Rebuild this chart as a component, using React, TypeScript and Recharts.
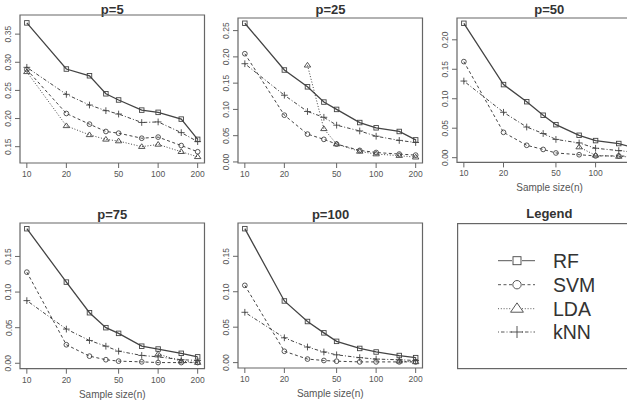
import React from "react";
import { LineChart, Line, XAxis, YAxis, ReferenceArea } from "recharts";

// misclassification rate vs. training sample size, one panel per dimension p
const sampleSizes = [10, 20, 30, 40, 50, 75, 100, 150, 200];
const xTicks = [10, 20, 50, 100, 200];

const rfP5 = [0.370, 0.288, 0.276, 0.244, 0.233, 0.215, 0.211, 0.199, 0.163];
const svmP5 = [0.287, 0.209, 0.190, 0.177, 0.174, 0.165, 0.167, 0.152, 0.141];
const ldaP5 = [0.283, 0.187, 0.171, 0.163, 0.160, 0.150, 0.154, 0.141, 0.132];
const knnP5 = [0.291, 0.243, 0.224, 0.214, 0.208, 0.193, 0.194, 0.175, 0.159];

const rfP25 = [0.264, 0.175, 0.143, 0.114, 0.100, 0.075, 0.065, 0.058, 0.042];
const svmP25 = [0.206, 0.089, 0.053, 0.043, 0.034, 0.022, 0.018, 0.015, 0.013];
const ldaP25 = [null, null, 0.184, 0.063, 0.034, 0.020, 0.015, 0.012, 0.009];
const knnP25 = [0.187, 0.127, 0.096, 0.085, 0.070, 0.059, 0.049, 0.041, 0.037];

const rfP50 = [0.228, 0.124, 0.095, 0.072, 0.056, 0.038, 0.029, 0.024, 0.016];
const svmP50 = [0.163, 0.043, 0.021, 0.014, 0.008, 0.005, 0.003, 0.003, 0.002];
const ldaP50 = [null, null, null, null, null, 0.018, 0.004, 0.002, 0.001];
const knnP50 = [0.130, 0.077, 0.052, 0.041, 0.031, 0.025, 0.016, 0.012, 0.009];

const rfP75 = [0.189, 0.114, 0.071, 0.050, 0.042, 0.024, 0.020, 0.014, 0.009];
const svmP75 = [0.128, 0.026, 0.010, 0.005, 0.003, 0.002, 0.001, 0.001, 0.001];
const ldaP75 = [null, null, null, null, null, null, 0.013, 0.003, 0.001];
const knnP75 = [0.088, 0.048, 0.032, 0.024, 0.017, 0.011, 0.009, 0.005, 0.004];

const rfP100 = [0.189, 0.087, 0.058, 0.042, 0.030, 0.020, 0.015, 0.010, 0.007];
const svmP100 = [0.109, 0.016, 0.005, 0.003, 0.002, 0.001, 0.001, 0.001, 0.001];
const ldaP100 = [null, null, null, null, null, null, null, 0.002, 0.001];
const knnP100 = [0.071, 0.035, 0.022, 0.015, 0.011, 0.007, 0.005, 0.004, 0.003];

const methods = ["RF", "SVM", "LDA", "kNN"];

const INK = "#444";
const FRAME = "#666";
const FONT = "'Liberation Sans', Arial, Helvetica, sans-serif";

type Shape = "square" | "circle" | "triangle" | "plus";

const lineStyle: Record<string, { dash?: string; shape: Shape; width: number }> = {
  RF: { shape: "square", width: 1.3 },
  SVM: { dash: "3 2.5", shape: "circle", width: 1 },
  LDA: { dash: "1 1.8", shape: "triangle", width: 1 },
  kNN: { dash: "1 2 3.5 2", shape: "plus", width: 1 },
};

// log x range padded by 4% on each side, as R does
const logLo = Math.log10(10);
const logHi = Math.log10(200);
const pad = (logHi - logLo) * 0.04;
const xDomain: [number, number] = [Math.pow(10, logLo - pad), Math.pow(10, logHi + pad)];

function Marker({ shape, cx, cy, size }: { shape: Shape; cx: number; cy: number; size: number }) {
  const h = size / 2;
  const common = { fill: "none", stroke: INK, strokeWidth: 0.9 };
  if (shape === "square") return <rect x={cx - h} y={cy - h} width={size} height={size} {...common} />;
  if (shape === "circle") return <circle cx={cx} cy={cy} r={h * 1.05} {...common} />;
  if (shape === "triangle") {
    const t = size * 0.65;
    return (
      <polygon
        points={`${cx},${cy - t} ${cx - t * 1.1},${cy + t * 0.6} ${cx + t * 1.1},${cy + t * 0.6}`}
        {...common}
      />
    );
  }
  const a = size * 0.75;
  return <path d={`M${cx - a},${cy}H${cx + a}M${cx},${cy - a}V${cy + a}`} {...common} />;
}

const makeDot = (shape: Shape) => (p: any) => {
  if (p.cx == null || p.cy == null || p.value == null) return <g key={`e-${p.index}`} />;
  return (
    <g key={`${shape}-${p.index}`}>
      <Marker shape={shape} cx={p.cx} cy={p.cy} size={4.5} />
    </g>
  );
};

const YTick = (props: any) => {
  const { x, y, payload } = props;
  return (
    <text
      x={x}
      y={y}
      transform={`rotate(-90 ${x} ${y})`}
      textAnchor="middle"
      fontSize={8.5}
      fontFamily={FONT}
      fill="#555"
    >
      {Number(payload.value).toFixed(2)}
    </text>
  );
};

interface PanelProps {
  title: string;
  series: (number | null)[][];
  box: [number, number, number, number]; // left, top, right, bottom on the page
  yDomain: [number, number];
  yTicks: number[];
  ticks?: number[];
  xLabel?: boolean;
  titleY: number;
}

function Panel({ title, series, box, yDomain, yTicks, ticks = xTicks, xLabel, titleY }: PanelProps) {
  const [bl, bt, br, bb] = box;
  const axisW = 22;
  const axisH = xLabel ? 34 : 22;
  const data = sampleSizes.map((n, i) => {
    const row: Record<string, number | null> = { n };
    methods.forEach((m, k) => (row[m] = series[k][i]));
    return row;
  });
  return (
    <>
      <div
        style={{
          position: "absolute",
          left: bl,
          width: br - bl,
          top: titleY - 8,
          height: 16,
          lineHeight: "16px",
          textAlign: "center",
          fontFamily: FONT,
          fontWeight: 700,
          fontSize: 13,
          color: "#333",
        }}
      >
        {title}
      </div>
      <div style={{ position: "absolute", left: bl - axisW, top: bt - 1 }}>
        <LineChart
          width={br - bl + axisW + 2}
          height={bb - bt + axisH + 1}
          data={data}
          margin={{ top: 1, right: 2, bottom: 0, left: 0 }}
        >
          <XAxis
            dataKey="n"
            type="number"
            scale="log"
            domain={xDomain}
            ticks={ticks}
            allowDataOverflow
            interval={0}
            height={axisH}
            axisLine={false}
            tickLine={{ stroke: FRAME }}
            tickSize={5}
            tickMargin={3}
            tick={{ fontSize: 8.5, fill: "#555", fontFamily: FONT }}
            label={
              xLabel
                ? { value: "Sample size(n)", position: "insideBottom", offset: 5, fontSize: 10, fill: "#555", fontFamily: FONT }
                : undefined
            }
          />
          <YAxis
            type="number"
            domain={yDomain}
            ticks={yTicks}
            allowDataOverflow
            interval={0}
            width={axisW}
            axisLine={false}
            tickLine={{ stroke: FRAME }}
            tickSize={5}
            tickMargin={3.5}
            tick={<YTick />}
          />
          <ReferenceArea
            x1={xDomain[0]}
            x2={xDomain[1]}
            y1={yDomain[0]}
            y2={yDomain[1]}
            fill="none"
            stroke={FRAME}
            strokeWidth={1.2}
            fillOpacity={0}
          />
          {methods.map((m) => (
            <Line
              key={m}
              dataKey={m}
              type="linear"
              stroke={INK}
              strokeWidth={lineStyle[m].width}
              strokeDasharray={lineStyle[m].dash}
              dot={makeDot(lineStyle[m].shape)}
              activeDot={false}
              connectNulls={false}
              isAnimationActive={false}
            />
          ))}
        </LineChart>
      </div>
    </>
  );
}

function LegendPanel({ box, titleY }: { box: [number, number, number, number]; titleY: number }) {
  const [bl, bt, br, bb] = box;
  const rows = [37.7, 61.7, 85.7, 109];
  return (
    <>
      <div
        style={{
          position: "absolute",
          left: bl,
          width: br - bl,
          top: titleY - 8,
          height: 16,
          lineHeight: "16px",
          textAlign: "center",
          fontFamily: FONT,
          fontWeight: 700,
          fontSize: 13,
          color: "#333",
        }}
      >
        Legend
      </div>
      <svg
        style={{ position: "absolute", left: bl, top: bt }}
        width={br - bl + 2}
        height={bb - bt + 2}
      >
        <rect x={0.6} y={0.6} width={br - bl} height={bb - bt} fill="none" stroke={FRAME} strokeWidth={1.2} />
        {methods.map((m, i) => {
          const y = rows[i];
          const st = lineStyle[m];
          return (
            <g key={m}>
              <line x1={41} x2={55} y1={y} y2={y} stroke={INK} strokeWidth={0.9} strokeDasharray={st.dash} />
              <line x1={65} x2={78} y1={y} y2={y} stroke={INK} strokeWidth={0.9} strokeDasharray={st.dash} />
              <Marker shape={st.shape} cx={60} cy={y} size={st.shape === "triangle" ? 9 : 8} />
              <text x={96} y={y + 7} fontSize={19.5} fontFamily={FONT} fill="#333">
                {m}
              </text>
            </g>
          );
        })}
      </svg>
    </>
  );
}

export default function App() {
  return (
    <div
      style={{
        position: "absolute",
        left: 0,
        top: 0,
        width: 627,
        height: 401,
        overflow: "hidden",
        background: "#fff",
      }}
    >
      <Panel
        title="p=5"
        series={[rfP5, svmP5, ldaP5, knnP5]}
        box={[20, 15, 204.5, 163]}
        yDomain={[0.121, 0.384]}
        yTicks={[0.15, 0.2, 0.25, 0.3, 0.35]}
        titleY={10}
      />
      <Panel
        title="p=25"
        series={[rfP25, svmP25, ldaP25, knnP25]}
        box={[238.3, 18.3, 422.8, 163.3]}
        yDomain={[-0.002, 0.274]}
        yTicks={[0, 0.05, 0.1, 0.15, 0.2, 0.25]}
        titleY={10}
      />
      {/* right-hand column runs past the page edge, so its 200 tick is never seen */}
      <Panel
        title="p=50"
        series={[rfP50, svmP50, ldaP50, knnP50]}
        box={[456.7, 18.3, 641.8, 162.7]}
        yDomain={[-0.008, 0.237]}
        yTicks={[0, 0.05, 0.1, 0.15, 0.2]}
        ticks={[10, 20, 50, 100]}
        xLabel
        titleY={10}
      />
      <Panel
        title="p=75"
        series={[rfP75, svmP75, ldaP75, knnP75]}
        box={[20, 223.3, 204.5, 369]}
        yDomain={[-0.0076, 0.197]}
        yTicks={[0, 0.05, 0.1, 0.15]}
        xLabel
        titleY={215}
      />
      <Panel
        title="p=100"
        series={[rfP100, svmP100, ldaP100, knnP100]}
        box={[238.3, 223.3, 422.8, 368.3]}
        yDomain={[-0.0076, 0.197]}
        yTicks={[0, 0.05, 0.1, 0.15]}
        xLabel
        titleY={215}
      />
      <LegendPanel box={[456.7, 223.3, 642, 368.3]} titleY={214} />
    </div>
  );
}
